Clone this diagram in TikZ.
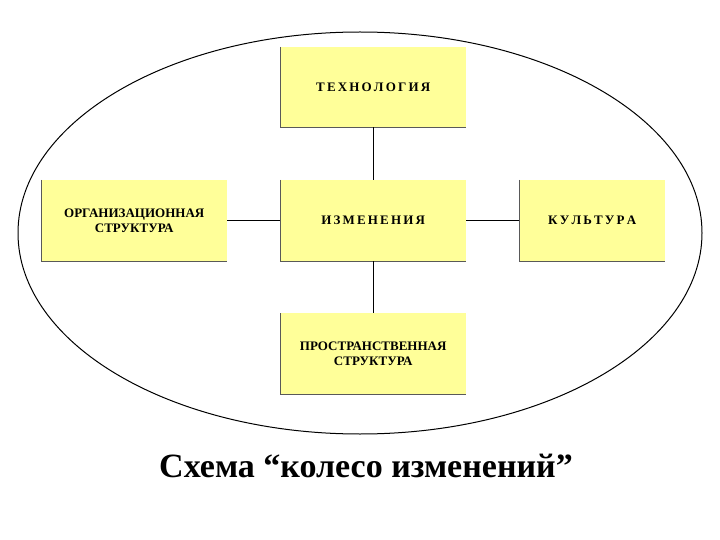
\documentclass[tikz,border=0pt]{standalone}
\usepackage{fontspec}
\setmainfont{Liberation Serif}[BoldFont={Liberation Serif Bold}]
\begin{document}
\begin{tikzpicture}[x=1pt,y=-1pt,
  box/.style={fill={rgb,255:red,255;green,255;blue,153},inner sep=0pt,align=center,font=\bfseries\fontsize{13}{15}\selectfont,anchor=north west},
  edge/.style={draw=black,line width=0.8pt}]
\useasboundingbox (0,0) rectangle (720,540);
\fill[white] (0,0) rectangle (720,540);
\draw[line width=1pt] (360,233) ellipse [x radius=342, y radius=201];
\node[box,minimum width=186pt,minimum height=80pt] (t) at (280,47) {Т\,Е\,Х\,Н\,О\,Л\,О\,Г\,И\,Я};
\node[box,minimum width=186pt,minimum height=81pt] (c) at (280,180) {И\,З\,М\,Е\,Н\,Е\,Н\,И\,Я};
\node[box,minimum width=186pt,minimum height=81pt] (o) at (41,180) {ОРГАНИЗАЦИОННАЯ\\СТРУКТУРА};
\node[box,minimum width=146pt,minimum height=81pt] (k) at (519,180) {К\,У\,Л\,Ь\,Т\,У\,Р\,А};
\node[box,minimum width=186pt,minimum height=81pt] (p) at (280,313) {ПРОСТРАНСТВЕННАЯ\\СТРУКТУРА};
\foreach \n in {t,c,o,k,p}{
  \draw[gray!70!black,line width=1pt] (\n.north west) -- (\n.south west) -- (\n.south east);
}
\draw[edge] (t) -- (c);
\draw[edge] (c) -- (p);
\draw[edge] (o) -- (c);
\draw[edge] (c) -- (k);
\node[font=\bfseries\fontsize{34}{38}\selectfont] (title) at (366,466) {Схема “колесо изменений”};
\end{tikzpicture}
\end{document}
